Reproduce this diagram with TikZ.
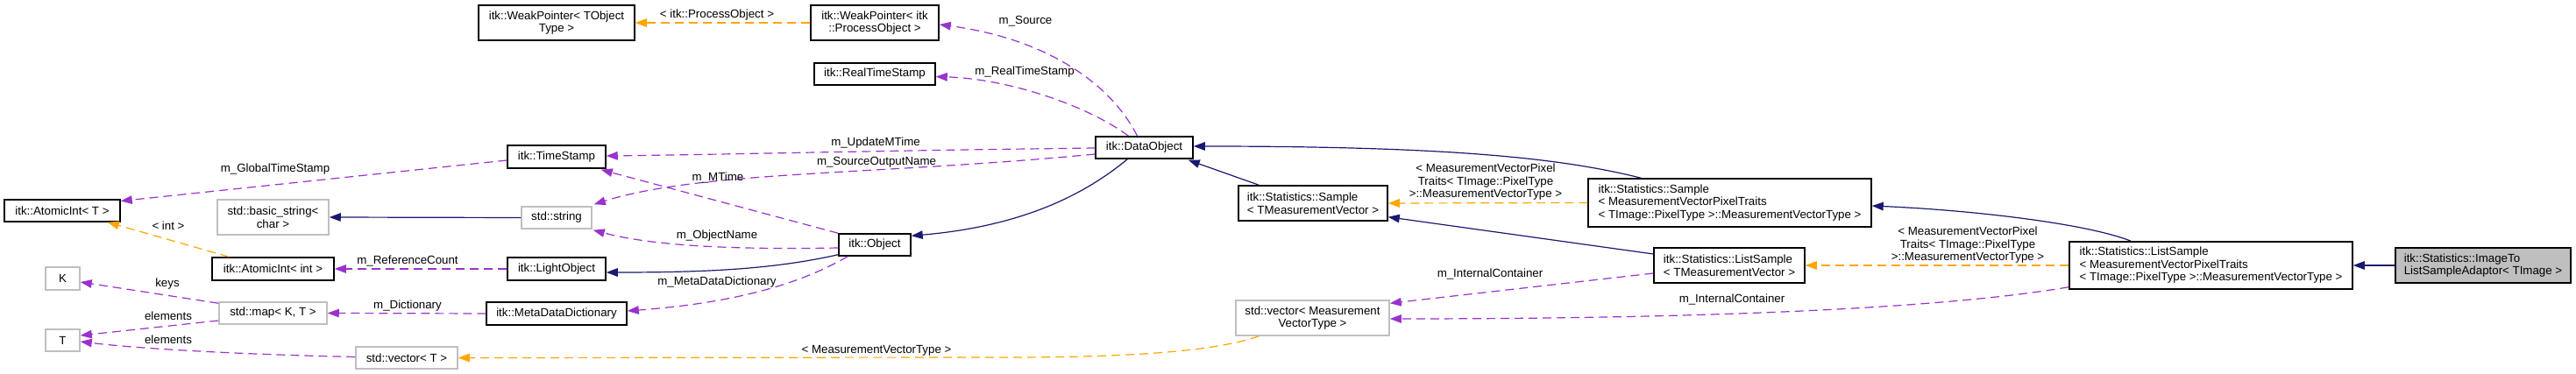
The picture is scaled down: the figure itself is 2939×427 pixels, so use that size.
\documentclass[tikz,border=0pt]{standalone}
\usepackage{fontspec}
\setmainfont{Liberation Sans}
\usetikzlibrary{arrows.meta,calc}
\definecolor{navy}{HTML}{191970}
\definecolor{purp}{HTML}{9A32CD}
\definecolor{orng}{HTML}{FFA500}
\definecolor{gborder}{HTML}{BFBFBF}
\definecolor{gfill}{HTML}{BFBFBF}
\newcommand\fs{\fontsize{13.3}{14.5}\selectfont}
\tikzset{
  box/.style={draw=black, line width=1.5pt, fill=white, inner sep=0pt, font=\fs, align=center},
  gbox/.style={box, draw=gborder},
  lbox/.style={box, align=left},
  lbl/.style={font=\fs, inner sep=0pt, align=center},
  tip/.style={-{Triangle[length=13pt,width=9.5pt]}},
  inh/.style={tip, draw=navy, line width=1.2pt},
  use/.style={tip, draw=purp, line width=1.2pt, dash pattern=on 10pt off 6pt},
  tpl/.style={tip, draw=orng, line width=1.2pt, dash pattern=on 10pt off 6pt},
}
\begin{document}
\begin{tikzpicture}[x=1pt,y=-1pt]
\useasboundingbox[fill=white] (0,0) rectangle (2939,427);
% nodes
\node[box, minimum width=132pt, minimum height=25pt] (ati) at (71,240.5) {itk::AtomicInt< T >};
\node[gbox, minimum width=127pt, minimum height=40pt] (bstr) at (311.5,248) {std::basic\_string<\\char >};
\node[box, minimum width=139pt, minimum height=26pt] (atint) at (311.5,307) {itk::AtomicInt< int >};
\node[gbox, minimum width=39pt, minimum height=26pt] (K) at (71.5,318) {K};
\node[gbox, minimum width=123pt, minimum height=25pt] (map) at (311.5,357.5) {std::map< K, T >};
\node[gbox, minimum width=39pt, minimum height=25pt] (T) at (71.5,388.5) {T};
\node[gbox, minimum width=116pt, minimum height=25pt] (vecT) at (464,408.5) {std::vector< T >};
\node[box, minimum width=178pt, minimum height=40pt] (wpT) at (635,26) {itk::WeakPointer< TObject\\Type >};
\node[box, minimum width=112pt, minimum height=26pt] (ts) at (635,179) {itk::TimeStamp};
\node[gbox, minimum width=80pt, minimum height=25pt] (str) at (635,248.5) {std::string};
\node[box, minimum width=112pt, minimum height=26pt] (lo) at (635,307) {itk::LightObject};
\node[box, minimum width=160pt, minimum height=26pt] (mdd) at (635,358) {itk::MetaDataDictionary};
\node[box, minimum width=146pt, minimum height=40pt] (wpPO) at (998,26) {itk::WeakPointer< itk\\::ProcessObject >};
\node[box, minimum width=138pt, minimum height=25pt] (rts) at (998,84.5) {itk::RealTimeStamp};
\node[box, minimum width=82pt, minimum height=25pt] (obj) at (998,279.5) {itk::Object};
\node[box, minimum width=111pt, minimum height=25pt] (dobj) at (1305.5,168.5) {itk::DataObject};
\node[lbox, minimum width=170pt, minimum height=40pt] (sTMV) at (1498,232) {itk::Statistics::Sample\\< TMeasurementVector >};
\node[gbox, minimum width=175pt, minimum height=40pt] (vecMVT) at (1497.5,363) {std::vector< Measurement\\VectorType >};
\node[lbox, minimum width=323pt, minimum height=55pt] (sMVPT) at (1973.5,231.5) {itk::Statistics::Sample\\< MeasurementVectorPixelTraits\\< TImage::PixelType >::MeasurementVectorType >};
\node[lbox, minimum width=172pt, minimum height=40pt] (lsTMV) at (1973,303) {itk::Statistics::ListSample\\< TMeasurementVector >};
\node[lbox, minimum width=323pt, minimum height=54pt] (lsMVPT) at (2522.5,303) {itk::Statistics::ListSample\\< MeasurementVectorPixelTraits\\< TImage::PixelType >::MeasurementVectorType >};
\node[lbox, fill=gfill, minimum width=200pt, minimum height=40pt] (img) at (2833,303) {itk::Statistics::ImageTo\\ListSampleAdaptor< TImage >};
% connectors
\draw[tpl] (wpPO.west) -- (wpT.east);
\node[lbl] (l1) at (818,17) {< itk::ProcessObject >};
\draw[use] ($(dobj.north)+(-8,0)$) .. controls (1270,100) and (1200,45) .. ($(wpPO.east)+(0,2)$);
\node[lbl] (l2) at (1170,24) {m\_Source};
\draw[use] ($(dobj.north)+(-18,0)$) .. controls (1240,120) and (1150,90) .. ($(rts.east)+(0,3)$);
\node[lbl] (l3) at (1169,82) {m\_RealTimeStamp};
\draw[use] ($(dobj.west)+(0,0.5)$) .. controls (1000,172) and (850,176) .. ($(ts.east)+(0,-1)$);
\node[lbl] (l4) at (999,163) {m\_UpdateMTime};
\draw[use] ($(dobj.west)+(0,7.5)$) .. controls (1000,200) and (800,195) .. ($(str.north east)+(2,-2)$);
\node[lbl] (l5) at (1000,185) {m\_SourceOutputName};
\draw[use] (obj.north west) -- ($(ts.south east)+(-6,1)$);
\node[lbl] (l6) at (819,203) {m\_MTime};
\draw[use] ($(obj.west)+(0,3.5)$) .. controls (850,285) and (750,282) .. ($(str.south east)+(1,1)$);
\node[lbl] (l7) at (818,269) {m\_ObjectName};
\draw[inh] ($(obj.south west)+(0,-2)$) .. controls (880,308) and (800,311) .. ($(lo.east)+(0,4)$);
\draw[use] ($(obj.south west)+(11,0)$) .. controls (920,320) and (850,345) .. ($(mdd.east)+(0,-3)$);
\node[lbl] (l8) at (818,322) {m\_MetaDataDictionary};
\draw[inh] ($(dobj.south west)+(37,0)$) .. controls (1240,220) and (1170,258) .. ($(obj.north east)+(0,3)$);
\draw[inh] ($(sTMV.north west)+(24,0)$) -- ($(dobj.south east)+(-6,1)$);
\draw[inh] ($(sMVPT.north west)+(61,0)$) .. controls (1780,180) and (1650,167) .. ($(dobj.east)+(0,-1.5)$);
\draw[tpl] (sMVPT.west) -- (sTMV.east);
\node[lbl] (l9) at (1695,208) {< MeasurementVectorPixel\\Traits< TImage::PixelType\\ >::MeasurementVectorType >};
\draw[inh] ($(lsTMV.west)+(0,-13)$) -- ($(sTMV.south east)+(0,-5)$);
\draw[use] ($(lsTMV.west)+(0,9)$) -- ($(vecMVT.north east)+(0,4)$);
\node[lbl] (l10) at (1700,313) {m\_InternalContainer};
\draw[inh] ($(lsMVPT.north west)+(71,0)$) .. controls (2380,255) and (2250,240) .. ($(sMVPT.east)+(0,3.5)$);
\draw[tpl] (lsMVPT.west) -- (lsTMV.east);
\node[lbl] (l11) at (2245,280) {< MeasurementVectorPixel\\Traits< TImage::PixelType\\ >::MeasurementVectorType >};
\draw[use] ($(lsMVPT.south west)+(0,-3)$) .. controls (2200,355) and (1900,364) .. ($(vecMVT.east)+(0,1)$);
\node[lbl] (l12) at (1976,342) {m\_InternalContainer};
\draw[inh] (img.west) -- (lsMVPT.east);
\draw[tpl] ($(vecMVT.south west)+(27,0)$) .. controls (1390,400) and (1300,408) .. (1150,408) -- (vecT.east);
\node[lbl] (l13) at (1000,400) {< MeasurementVectorType >};
\draw[use] ($(vecT.west)+(0,-1)$) .. controls (250,404) and (150,397) .. ($(T.east)+(0,1.5)$);
\node[lbl] (l14) at (192,388) {elements};
\draw[use] ($(map.west)+(0,8.5)$) -- ($(T.east)+(0,-5.5)$);
\node[lbl] (l15) at (192,361) {elements};
\draw[use] ($(map.north west)+(0,2)$) -- ($(K.east)+(0,4)$);
\node[lbl] (l16) at (191,324) {keys};
\draw[use] (mdd.west) -- (map.east);
\node[lbl] (l17) at (465,349) {m\_Dictionary};
\draw[use] (lo.west) -- (atint.east);
\node[lbl] (l18) at (465,298) {m\_ReferenceCount};
\draw[inh] (str.west) -- (bstr.east);
\draw[tpl] ($(atint.north west)+(20,0)$) -- ($(ati.south east)+(-15,0)$);
\node[lbl] (l19) at (192,258) {< int >};
\draw[use] ($(ts.west)+(0,4)$) -- ($(ati.east)+(0,-11)$);
\node[lbl] (l20) at (314,193) {m\_GlobalTimeStamp};
\end{tikzpicture}
\end{document}
